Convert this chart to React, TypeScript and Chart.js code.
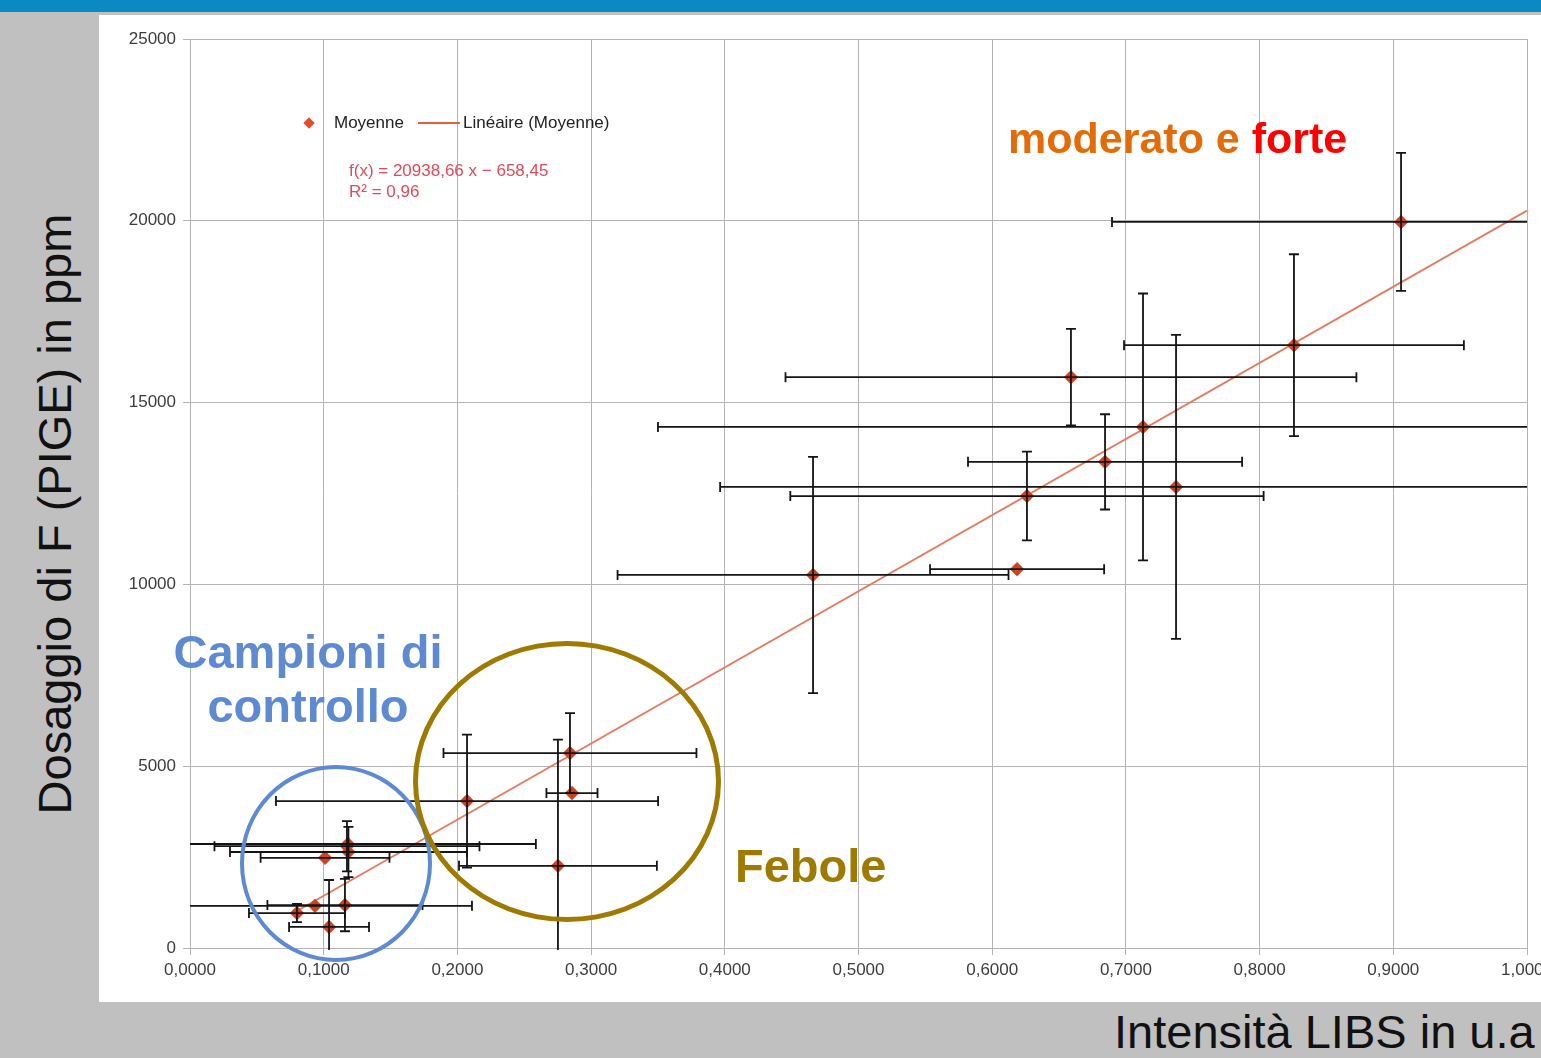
import React, { useEffect, useRef } from 'react';
import { Chart, registerables } from 'chart.js';

Chart.register(...registerables);

// ---- data ----
const xMean = [0.9058, 0.8257, 0.6589, 0.7128, 0.6844, 0.626, 0.7375, 0.466, 0.6186, 0.2842, 0.2857, 0.2752, 0.2072, 0.1174, 0.1181, 0.1185, 0.101, 0.1159, 0.0935, 0.08, 0.104];
const yMean = [19970, 16580, 15700, 14330, 13370, 12430, 12680, 10260, 10420, 5360, 4260, 2260, 4040, 2800, 2860, 2640, 2480, 1180, 1160, 960, 580];
const xErr = [0.2162, 0.1271, 0.2135, 0.3628, 0.1025, 0.177, 0.341, 0.1462, 0.0651, 0.0946, 0.0191, 0.074, 0.1429, 0.0991, 0.1406, 0.0886, 0.0482, 0.058, 0.1174, 0.0359, 0.0299];
const yErr = [1900, 2500, 1330, 3670, 1310, 1220, 4180, 3250, 0, 1100, 0, 3470, 1830, 690, 0, 690, 0, 720, 0, 250, 1290];

// trend line given by the chart: f(x) = 20938,66 x − 658,45
const trendSlope = 20938.66;
const trendIntercept = -658.45;
const trendX = [0.08, 1.0];

const xTickLabels = ['0,0000', '0,1000', '0,2000', '0,3000', '0,4000', '0,5000', '0,6000', '0,7000', '0,8000', '0,9000', '1,0000'];
const yTickLabels = ['0', '5000', '10000', '15000', '20000', '25000'];

const seriesName = 'Moyenne';
const trendName = 'Linéaire (Moyenne)';
const formulaText = 'f(x) = 20938,66 x − 658,45';
const r2Text = 'R² = 0,96';

const FONT = '"Liberation Sans", Arial, sans-serif';

const errorBarPlugin = {
  id: 'errorBars',
  afterDatasetsDraw(chart: any) {
    const { ctx, chartArea, scales } = chart;
    const xs = scales.x;
    const ys = scales.y;
    ctx.save();
    ctx.beginPath();
    ctx.rect(chartArea.left, chartArea.top, chartArea.right - chartArea.left, chartArea.bottom - chartArea.top + 2);
    ctx.clip();
    ctx.strokeStyle = '#141414';
    ctx.lineWidth = 1.8;
    const cap = 5;
    for (let i = 0; i < xMean.length; i++) {
      const px = xs.getPixelForValue(xMean[i]);
      const py = ys.getPixelForValue(yMean[i]);
      if (xErr[i] > 0) {
        const x1 = xs.getPixelForValue(xMean[i] - xErr[i]);
        const x2 = xs.getPixelForValue(xMean[i] + xErr[i]);
        ctx.beginPath();
        ctx.moveTo(x1, py);
        ctx.lineTo(x2, py);
        ctx.moveTo(x1, py - cap);
        ctx.lineTo(x1, py + cap);
        ctx.moveTo(x2, py - cap);
        ctx.lineTo(x2, py + cap);
        ctx.stroke();
      }
      if (yErr[i] > 0) {
        const y1 = ys.getPixelForValue(yMean[i] - yErr[i]);
        const y2 = ys.getPixelForValue(yMean[i] + yErr[i]);
        ctx.beginPath();
        ctx.moveTo(px, y1);
        ctx.lineTo(px, y2);
        ctx.moveTo(px - cap, y1);
        ctx.lineTo(px + cap, y1);
        ctx.moveTo(px - cap, y2);
        ctx.lineTo(px + cap, y2);
        ctx.stroke();
      }
    }
    ctx.restore();
  },
};

function abs(left: number, top: number, extra: any = {}): any {
  return { position: 'absolute', left, top, whiteSpace: 'nowrap', lineHeight: 1, ...extra };
}

export default function App() {
  const canvasRef = useRef<HTMLCanvasElement | null>(null);

  useEffect(() => {
    const canvas = canvasRef.current;
    if (!canvas) return;
    const gridColor = '#b4b4b4';
    const chart = new Chart(canvas, {
      type: 'scatter',
      data: {
        datasets: [
          {
            label: trendName,
            data: trendX.map((x) => ({ x, y: trendSlope * x + trendIntercept })),
            showLine: true,
            borderColor: '#e57a5e',
            borderWidth: 1.8,
            pointRadius: 0,
            fill: false,
            order: 2,
          } as any,
          {
            label: seriesName,
            data: xMean.map((x, i) => ({ x, y: yMean[i] })),
            pointStyle: 'rectRot',
            pointRadius: 7,
            backgroundColor: '#cf4020',
            borderColor: 'rgba(220,90,60,0.5)',
            borderWidth: 1,
            order: 1,
          } as any,
        ],
      },
      options: {
        responsive: false,
        maintainAspectRatio: false,
        animation: false,
        devicePixelRatio: 1,
        layout: { padding: { top: 24, right: 14, bottom: 0, left: 0 } },
        plugins: {
          legend: { display: false },
          tooltip: { enabled: false },
          title: { display: false },
        },
        scales: {
          x: {
            type: 'linear',
            min: 0,
            max: 1,
            grid: { color: gridColor, lineWidth: 1, tickLength: 7, tickColor: gridColor, drawTicks: true },
            border: { color: gridColor, width: 1 },
            ticks: {
              stepSize: 0.1,
              autoSkip: false,
              maxRotation: 0,
              padding: 5,
              color: '#3c3c3c',
              font: { family: FONT, size: 17 },
              callback: (_v: any, i: number) => xTickLabels[i],
            },
            afterFit: (s: any) => {
              s.height = 54;
              s.paddingLeft = 0;
              s.paddingRight = 0;
            },
          },
          y: {
            type: 'linear',
            min: 0,
            max: 25000,
            grid: { color: gridColor, lineWidth: 1, tickLength: 7, tickColor: gridColor, drawTicks: true },
            border: { color: gridColor, width: 1 },
            ticks: {
              stepSize: 5000,
              padding: 7,
              color: '#3c3c3c',
              font: { family: FONT, size: 17 },
              callback: (_v: any, i: number) => yTickLabels[i],
            },
            afterFit: (s: any) => {
              s.width = 91;
              s.paddingTop = 0;
              s.paddingBottom = 0;
            },
          },
        },
      } as any,
      plugins: [errorBarPlugin],
    });
    return () => chart.destroy();
  }, []);

  return (
    <div
      style={{
        position: 'fixed',
        left: 0,
        top: 0,
        width: 1541,
        height: 1058,
        background: '#c0c0c0',
        overflow: 'hidden',
        fontFamily: FONT,
      }}
    >
      <div style={{ position: 'absolute', left: 0, top: 0, width: 1541, height: 12, background: '#0a8ac3' }} />
      <div style={{ position: 'absolute', left: 99, top: 15, width: 1442, height: 987, background: '#ffffff' }}>
        <canvas ref={canvasRef} width={1442} height={987} style={{ display: 'block', width: 1442, height: 987 }} />
      </div>

      {/* legend inside the plot */}
      <div
        style={{
          position: 'absolute',
          left: 305,
          top: 119,
          width: 8,
          height: 8,
          background: '#e64a2a',
          transform: 'rotate(45deg)',
        }}
      />
      <div style={abs(334, 114, { fontSize: 17, color: '#222' })}>{seriesName}</div>
      <div style={{ position: 'absolute', left: 418, top: 122, width: 42, height: 1.6, background: '#e0603a' }} />
      <div style={abs(463, 114, { fontSize: 17, color: '#222' })}>{trendName}</div>
      <div style={abs(349, 162, { fontSize: 17, color: '#e04a5c' })}>{formulaText}</div>
      <div style={abs(349, 183, { fontSize: 17, color: '#e04a5c' })}>{r2Text}</div>

      {/* annotations */}
      <div style={abs(1008, 117, { fontSize: 43, fontWeight: 'bold', color: '#e36c09' })}>
        moderato e <span style={{ color: '#ff0000' }}>forte</span>
      </div>
      <div style={abs(308, 628, { fontSize: 47, fontWeight: 'bold', color: '#5d8ad0', transform: 'translateX(-50%)' })}>
        Campioni di
      </div>
      <div style={abs(308, 682, { fontSize: 47, fontWeight: 'bold', color: '#5d8ad0', transform: 'translateX(-50%)' })}>
        controllo
      </div>
      <div style={abs(735, 842, { fontSize: 47, fontWeight: 'bold', color: '#9e7a00' })}>Febole</div>

      {/* circles */}
      <div
        style={{
          position: 'absolute',
          left: 240,
          top: 765,
          width: 192,
          height: 197,
          boxSizing: 'border-box',
          border: '4px solid #5d8ad0',
          borderRadius: '50%',
        }}
      />
      <div
        style={{
          position: 'absolute',
          left: 413,
          top: 641,
          width: 308,
          height: 281,
          boxSizing: 'border-box',
          border: '5px solid #9e7a00',
          borderRadius: '50%',
        }}
      />

      {/* axis titles */}
      <div style={abs(1114, 1008, { fontSize: 47, color: '#111' })}>Intensità LIBS in u.a</div>
      <div
        style={abs(54, 514, {
          fontSize: 47,
          color: '#111',
          transform: 'translate(-50%, -50%) rotate(-90deg)',
        })}
      >
        Dosaggio di F (PIGE) in ppm
      </div>
    </div>
  );
}
